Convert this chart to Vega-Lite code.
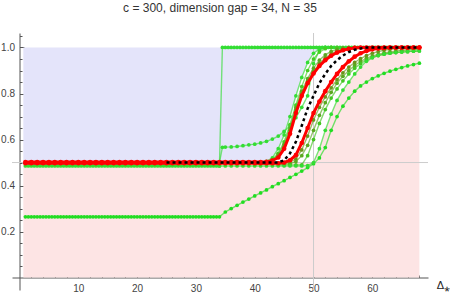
{
"$schema":"https://vega.github.io/schema/vega-lite/v6.json",
"width":416,"height":257,
"autosize":{"type":"none"},
"padding":{"left":12,"top":33,"right":22,"bottom":3},
"background":"white",
"config":{"view":{"stroke":null},"font":"Liberation Sans"},
"title":{"text":"c = 300, dimension gap = 34, N = 35","fontSize":12,"fontWeight":"normal","color":"#333333","font":"Liberation Sans","anchor":"middle","frame":"group","baseline":"alphabetic","offset":9},
"resolve":{"axis":{"x":"independent","y":"independent"}},
"datasets":{
"blue":[{"x":0.65,"lo":0.5,"hi":1},{"x":41,"lo":0.5,"hi":1},{"x":42,"lo":0.505,"hi":1},{"x":43,"lo":0.52,"hi":1},{"x":44,"lo":0.56,"hi":1},{"x":45,"lo":0.62,"hi":1},{"x":46,"lo":0.7,"hi":1},{"x":47,"lo":0.79,"hi":1},{"x":48,"lo":0.87,"hi":1},{"x":49,"lo":0.935,"hi":1},{"x":50,"lo":0.975,"hi":1},{"x":51,"lo":0.993,"hi":1},{"x":52,"lo":1,"hi":1}],
"pink":[{"x":0.65,"lo":0,"hi":0.5},{"x":50,"lo":0,"hi":0.5},{"x":51,"lo":0,"hi":0.56},{"x":52,"lo":0,"hi":0.64},{"x":53,"lo":0,"hi":0.71},{"x":54,"lo":0,"hi":0.77},{"x":55,"lo":0,"hi":0.815},{"x":56,"lo":0,"hi":0.85},{"x":57,"lo":0,"hi":0.885},{"x":58,"lo":0,"hi":0.915},{"x":59,"lo":0,"hi":0.94},{"x":60,"lo":0,"hi":0.96},{"x":62,"lo":0,"hi":0.98},{"x":64,"lo":0,"hi":0.99},{"x":66,"lo":0,"hi":0.996},{"x":68,"lo":0,"hi":1}],
"curves":[
{"c":"top","x":1,"y":0.485},{"c":"top","x":1.5,"y":0.485},{"c":"top","x":2,"y":0.485},{"c":"top","x":2.5,"y":0.485},{"c":"top","x":3,"y":0.485},{"c":"top","x":3.5,"y":0.485},{"c":"top","x":4,"y":0.485},{"c":"top","x":4.5,"y":0.485},{"c":"top","x":5,"y":0.485},{"c":"top","x":5.5,"y":0.485},{"c":"top","x":6,"y":0.485},{"c":"top","x":6.5,"y":0.485},{"c":"top","x":7,"y":0.485},{"c":"top","x":7.5,"y":0.485},{"c":"top","x":8,"y":0.485},{"c":"top","x":8.5,"y":0.485},{"c":"top","x":9,"y":0.485},{"c":"top","x":9.5,"y":0.485},{"c":"top","x":10,"y":0.485},{"c":"top","x":10.5,"y":0.485},{"c":"top","x":11,"y":0.485},{"c":"top","x":11.5,"y":0.485},{"c":"top","x":12,"y":0.485},{"c":"top","x":12.5,"y":0.485},{"c":"top","x":13,"y":0.485},{"c":"top","x":13.5,"y":0.485},{"c":"top","x":14,"y":0.485},{"c":"top","x":14.5,"y":0.485},{"c":"top","x":15,"y":0.485},{"c":"top","x":15.5,"y":0.485},{"c":"top","x":16,"y":0.485},{"c":"top","x":16.5,"y":0.485},{"c":"top","x":17,"y":0.485},{"c":"top","x":17.5,"y":0.485},{"c":"top","x":18,"y":0.485},{"c":"top","x":18.5,"y":0.485},{"c":"top","x":19,"y":0.485},{"c":"top","x":19.5,"y":0.485},{"c":"top","x":20,"y":0.485},{"c":"top","x":20.5,"y":0.485},{"c":"top","x":21,"y":0.485},{"c":"top","x":21.5,"y":0.485},{"c":"top","x":22,"y":0.485},{"c":"top","x":22.5,"y":0.485},{"c":"top","x":23,"y":0.485},{"c":"top","x":23.5,"y":0.485},{"c":"top","x":24,"y":0.485},{"c":"top","x":24.5,"y":0.485},{"c":"top","x":25,"y":0.485},{"c":"top","x":25.5,"y":0.485},{"c":"top","x":26,"y":0.485},{"c":"top","x":26.5,"y":0.485},{"c":"top","x":27,"y":0.485},{"c":"top","x":27.5,"y":0.485},{"c":"top","x":28,"y":0.485},{"c":"top","x":28.5,"y":0.485},{"c":"top","x":29,"y":0.485},{"c":"top","x":29.5,"y":0.485},{"c":"top","x":30,"y":0.485},{"c":"top","x":30.5,"y":0.485},{"c":"top","x":31,"y":0.485},{"c":"top","x":31.5,"y":0.485},{"c":"top","x":32,"y":0.485},{"c":"top","x":32.5,"y":0.485},{"c":"top","x":33,"y":0.485},{"c":"top","x":33.5,"y":0.485},{"c":"top","x":34,"y":0.485},{"c":"top","x":34.5,"y":1},{"c":"top","x":35,"y":1},{"c":"top","x":35.5,"y":1},{"c":"top","x":36,"y":1},{"c":"top","x":36.5,"y":1},{"c":"top","x":37,"y":1},{"c":"top","x":37.5,"y":1},{"c":"top","x":38,"y":1},{"c":"top","x":38.5,"y":1},{"c":"top","x":39,"y":1},{"c":"top","x":39.5,"y":1},{"c":"top","x":40,"y":1},{"c":"top","x":40.5,"y":1},{"c":"top","x":41,"y":1},{"c":"top","x":41.5,"y":1},{"c":"top","x":42,"y":1},{"c":"top","x":42.5,"y":1},{"c":"top","x":43,"y":1},{"c":"top","x":43.5,"y":1},{"c":"top","x":44,"y":1},{"c":"top","x":44.5,"y":1},{"c":"top","x":45,"y":1},{"c":"top","x":45.5,"y":1},{"c":"top","x":46,"y":1},{"c":"top","x":46.5,"y":1},{"c":"top","x":47,"y":1},{"c":"top","x":47.5,"y":1},{"c":"top","x":48,"y":1},{"c":"top","x":48.5,"y":1},{"c":"top","x":49,"y":1},{"c":"top","x":49.5,"y":1},{"c":"top","x":50,"y":1},{"c":"top","x":50.5,"y":1},{"c":"top","x":51,"y":1},{"c":"top","x":51.5,"y":1},{"c":"top","x":52,"y":1},{"c":"top","x":52.5,"y":1},{"c":"top","x":53,"y":1},{"c":"top","x":53.5,"y":1},{"c":"top","x":54,"y":1},{"c":"top","x":54.5,"y":1},{"c":"top","x":55,"y":1},{"c":"top","x":55.5,"y":1},{"c":"top","x":56,"y":1},{"c":"top","x":56.5,"y":1},{"c":"top","x":57,"y":1},{"c":"top","x":57.5,"y":1},{"c":"top","x":58,"y":1},{"c":"top","x":58.5,"y":1},{"c":"top","x":59,"y":1},{"c":"top","x":59.5,"y":1},{"c":"top","x":60,"y":1},{"c":"top","x":60.5,"y":1},{"c":"top","x":61,"y":1},{"c":"top","x":61.5,"y":1},{"c":"top","x":62,"y":1},{"c":"top","x":62.5,"y":1},{"c":"top","x":63,"y":1},{"c":"top","x":63.5,"y":1},{"c":"top","x":64,"y":1},{"c":"top","x":64.5,"y":1},{"c":"top","x":65,"y":1},{"c":"top","x":65.5,"y":1},{"c":"top","x":66,"y":1},{"c":"top","x":66.5,"y":1},{"c":"top","x":67,"y":1},{"c":"top","x":67.5,"y":1},{"c":"top","x":68,"y":1},
{"c":"j2","x":33,"y":0.5},{"c":"j2","x":34,"y":0.5},{"c":"j2","x":34.5,"y":0.566},{"c":"j2","x":35,"y":0.567},{"c":"j2","x":36,"y":0.568},{"c":"j2","x":37,"y":0.57},{"c":"j2","x":38,"y":0.573},{"c":"j2","x":39,"y":0.577},{"c":"j2","x":40,"y":0.58},{"c":"j2","x":41,"y":0.585},{"c":"j2","x":42,"y":0.592},{"c":"j2","x":43,"y":0.602},{"c":"j2","x":44,"y":0.615},{"c":"j2","x":45,"y":0.635},{"c":"j2","x":46,"y":0.66},{"c":"j2","x":47,"y":0.695},{"c":"j2","x":48,"y":0.74},{"c":"j2","x":49,"y":0.79},{"c":"j2","x":50,"y":0.93},{"c":"j2","x":51,"y":0.99},{"c":"j2","x":52,"y":1},
{"c":"low","x":1,"y":0.264},{"c":"low","x":1.5,"y":0.264},{"c":"low","x":2,"y":0.264},{"c":"low","x":2.5,"y":0.264},{"c":"low","x":3,"y":0.264},{"c":"low","x":3.5,"y":0.264},{"c":"low","x":4,"y":0.264},{"c":"low","x":4.5,"y":0.264},{"c":"low","x":5,"y":0.264},{"c":"low","x":5.5,"y":0.264},{"c":"low","x":6,"y":0.264},{"c":"low","x":6.5,"y":0.264},{"c":"low","x":7,"y":0.264},{"c":"low","x":7.5,"y":0.264},{"c":"low","x":8,"y":0.264},{"c":"low","x":8.5,"y":0.264},{"c":"low","x":9,"y":0.264},{"c":"low","x":9.5,"y":0.264},{"c":"low","x":10,"y":0.264},{"c":"low","x":10.5,"y":0.264},{"c":"low","x":11,"y":0.264},{"c":"low","x":11.5,"y":0.264},{"c":"low","x":12,"y":0.264},{"c":"low","x":12.5,"y":0.264},{"c":"low","x":13,"y":0.264},{"c":"low","x":13.5,"y":0.264},{"c":"low","x":14,"y":0.264},{"c":"low","x":14.5,"y":0.264},{"c":"low","x":15,"y":0.264},{"c":"low","x":15.5,"y":0.264},{"c":"low","x":16,"y":0.264},{"c":"low","x":16.5,"y":0.264},{"c":"low","x":17,"y":0.264},{"c":"low","x":17.5,"y":0.264},{"c":"low","x":18,"y":0.264},{"c":"low","x":18.5,"y":0.264},{"c":"low","x":19,"y":0.264},{"c":"low","x":19.5,"y":0.264},{"c":"low","x":20,"y":0.264},{"c":"low","x":20.5,"y":0.264},{"c":"low","x":21,"y":0.264},{"c":"low","x":21.5,"y":0.264},{"c":"low","x":22,"y":0.264},{"c":"low","x":22.5,"y":0.264},{"c":"low","x":23,"y":0.264},{"c":"low","x":23.5,"y":0.264},{"c":"low","x":24,"y":0.264},{"c":"low","x":24.5,"y":0.264},{"c":"low","x":25,"y":0.264},{"c":"low","x":25.5,"y":0.264},{"c":"low","x":26,"y":0.264},{"c":"low","x":26.5,"y":0.264},{"c":"low","x":27,"y":0.264},{"c":"low","x":27.5,"y":0.264},{"c":"low","x":28,"y":0.264},{"c":"low","x":28.5,"y":0.264},{"c":"low","x":29,"y":0.264},{"c":"low","x":29.5,"y":0.264},{"c":"low","x":30,"y":0.264},{"c":"low","x":30.5,"y":0.264},{"c":"low","x":31,"y":0.264},{"c":"low","x":31.5,"y":0.264},{"c":"low","x":32,"y":0.264},{"c":"low","x":32.5,"y":0.264},{"c":"low","x":33,"y":0.264},{"c":"low","x":33.5,"y":0.264},{"c":"low","x":34,"y":0.264},{"c":"low","x":35,"y":0.285},{"c":"low","x":36,"y":0.3},{"c":"low","x":37,"y":0.314},{"c":"low","x":38,"y":0.328},{"c":"low","x":39,"y":0.341},{"c":"low","x":40,"y":0.355},{"c":"low","x":41,"y":0.368},{"c":"low","x":42,"y":0.381},{"c":"low","x":43,"y":0.395},{"c":"low","x":44,"y":0.408},{"c":"low","x":45,"y":0.421},{"c":"low","x":46,"y":0.435},{"c":"low","x":47,"y":0.449},{"c":"low","x":48,"y":0.463},{"c":"low","x":49,"y":0.478},{"c":"low","x":50,"y":0.495},{"c":"low","x":51,"y":0.52},{"c":"low","x":52,"y":0.565},{"c":"low","x":53,"y":0.64},{"c":"low","x":54,"y":0.7},{"c":"low","x":55,"y":0.745},{"c":"low","x":56,"y":0.78},{"c":"low","x":57,"y":0.81},{"c":"low","x":58,"y":0.833},{"c":"low","x":59,"y":0.85},{"c":"low","x":60,"y":0.865},{"c":"low","x":61,"y":0.877},{"c":"low","x":62,"y":0.888},{"c":"low","x":63,"y":0.897},{"c":"low","x":64,"y":0.905},{"c":"low","x":65,"y":0.913},{"c":"low","x":66,"y":0.92},{"c":"low","x":67,"y":0.926},{"c":"low","x":68,"y":0.932},
{"c":"L1","x":40,"y":0.5},{"c":"L1","x":41,"y":0.5},{"c":"L1","x":42,"y":0.505},{"c":"L1","x":43,"y":0.52},{"c":"L1","x":44,"y":0.56},{"c":"L1","x":45,"y":0.62},{"c":"L1","x":46,"y":0.7},{"c":"L1","x":47,"y":0.79},{"c":"L1","x":48,"y":0.87},{"c":"L1","x":49,"y":0.935},{"c":"L1","x":50,"y":0.975},{"c":"L1","x":51,"y":0.993},{"c":"L1","x":52,"y":1},{"c":"L1","x":53,"y":1},
{"c":"L2","x":40,"y":0.5},{"c":"L2","x":41,"y":0.5},{"c":"L2","x":42,"y":0.502},{"c":"L2","x":43,"y":0.512},{"c":"L2","x":44,"y":0.54},{"c":"L2","x":45,"y":0.59},{"c":"L2","x":46,"y":0.665},{"c":"L2","x":47,"y":0.75},{"c":"L2","x":48,"y":0.83},{"c":"L2","x":49,"y":0.9},{"c":"L2","x":50,"y":0.95},{"c":"L2","x":51,"y":0.98},{"c":"L2","x":52,"y":0.995},{"c":"L2","x":53,"y":1},{"c":"L2","x":54,"y":1},
{"c":"L4","x":40,"y":0.5},{"c":"L4","x":41,"y":0.5},{"c":"L4","x":42,"y":0.503},{"c":"L4","x":43,"y":0.51},{"c":"L4","x":44,"y":0.535},{"c":"L4","x":45,"y":0.58},{"c":"L4","x":46,"y":0.65},{"c":"L4","x":47,"y":0.74},{"c":"L4","x":48,"y":0.81},{"c":"L4","x":49,"y":0.865},{"c":"L4","x":50,"y":0.91},{"c":"L4","x":51,"y":0.945},{"c":"L4","x":52,"y":0.968},{"c":"L4","x":53,"y":0.983},{"c":"L4","x":54,"y":0.992},{"c":"L4","x":55,"y":0.998},{"c":"L4","x":56,"y":1},
{"c":"L3","x":40,"y":0.5},{"c":"L3","x":41,"y":0.5},{"c":"L3","x":42,"y":0.5},{"c":"L3","x":43,"y":0.505},{"c":"L3","x":44,"y":0.525},{"c":"L3","x":45,"y":0.57},{"c":"L3","x":46,"y":0.64},{"c":"L3","x":47,"y":0.73},{"c":"L3","x":48,"y":0.8},{"c":"L3","x":49,"y":0.855},{"c":"L3","x":50,"y":0.895},{"c":"L3","x":51,"y":0.93},{"c":"L3","x":52,"y":0.955},{"c":"L3","x":53,"y":0.972},{"c":"L3","x":54,"y":0.985},{"c":"L3","x":55,"y":0.993},{"c":"L3","x":56,"y":0.998},{"c":"L3","x":57,"y":1},
{"c":"R1","x":40,"y":0.495},{"c":"R1","x":45,"y":0.497},{"c":"R1","x":46,"y":0.502},{"c":"R1","x":47,"y":0.515},{"c":"R1","x":48,"y":0.555},{"c":"R1","x":49,"y":0.615},{"c":"R1","x":50,"y":0.685},{"c":"R1","x":51,"y":0.74},{"c":"R1","x":52,"y":0.785},{"c":"R1","x":53,"y":0.825},{"c":"R1","x":54,"y":0.86},{"c":"R1","x":55,"y":0.89},{"c":"R1","x":56,"y":0.915},{"c":"R1","x":57,"y":0.935},{"c":"R1","x":58,"y":0.952},{"c":"R1","x":59,"y":0.965},{"c":"R1","x":60,"y":0.975},{"c":"R1","x":61,"y":0.982},{"c":"R1","x":62,"y":0.988},{"c":"R1","x":63,"y":0.992},{"c":"R1","x":64,"y":0.995},{"c":"R1","x":65,"y":0.997},{"c":"R1","x":66,"y":0.998},{"c":"R1","x":67,"y":0.999},{"c":"R1","x":68,"y":1},
{"c":"R4","x":40,"y":0.492},{"c":"R4","x":46,"y":0.495},{"c":"R4","x":47,"y":0.505},{"c":"R4","x":48,"y":0.53},{"c":"R4","x":49,"y":0.575},{"c":"R4","x":50,"y":0.64},{"c":"R4","x":51,"y":0.705},{"c":"R4","x":52,"y":0.76},{"c":"R4","x":53,"y":0.805},{"c":"R4","x":54,"y":0.845},{"c":"R4","x":55,"y":0.875},{"c":"R4","x":56,"y":0.9},{"c":"R4","x":57,"y":0.922},{"c":"R4","x":58,"y":0.94},{"c":"R4","x":59,"y":0.953},{"c":"R4","x":60,"y":0.963},{"c":"R4","x":61,"y":0.97},{"c":"R4","x":62,"y":0.976},{"c":"R4","x":63,"y":0.98},{"c":"R4","x":64,"y":0.984},{"c":"R4","x":65,"y":0.987},{"c":"R4","x":66,"y":0.989},{"c":"R4","x":67,"y":0.991},{"c":"R4","x":68,"y":0.993},
{"c":"R2","x":44,"y":0.49},{"c":"R2","x":45,"y":0.49},{"c":"R2","x":46,"y":0.49},{"c":"R2","x":47,"y":0.49},{"c":"R2","x":48,"y":0.49},{"c":"R2","x":49,"y":0.53},{"c":"R2","x":50,"y":0.6},{"c":"R2","x":51,"y":0.67},{"c":"R2","x":52,"y":0.73},{"c":"R2","x":53,"y":0.78},{"c":"R2","x":54,"y":0.82},{"c":"R2","x":55,"y":0.855},{"c":"R2","x":56,"y":0.885},{"c":"R2","x":57,"y":0.91},{"c":"R2","x":58,"y":0.93},{"c":"R2","x":59,"y":0.945},{"c":"R2","x":60,"y":0.957},{"c":"R2","x":61,"y":0.965},{"c":"R2","x":62,"y":0.971},{"c":"R2","x":63,"y":0.975},{"c":"R2","x":64,"y":0.978},{"c":"R2","x":65,"y":0.98},{"c":"R2","x":66,"y":0.982},{"c":"R2","x":67,"y":0.984},{"c":"R2","x":68,"y":0.985},
{"c":"R3","x":34,"y":0.485},{"c":"R3","x":35,"y":0.485},{"c":"R3","x":36,"y":0.485},{"c":"R3","x":37,"y":0.485},{"c":"R3","x":38,"y":0.485},{"c":"R3","x":39,"y":0.485},{"c":"R3","x":40,"y":0.485},{"c":"R3","x":41,"y":0.485},{"c":"R3","x":42,"y":0.485},{"c":"R3","x":43,"y":0.485},{"c":"R3","x":44,"y":0.485},{"c":"R3","x":45,"y":0.485},{"c":"R3","x":46,"y":0.485},{"c":"R3","x":47,"y":0.485},{"c":"R3","x":48,"y":0.485},{"c":"R3","x":49,"y":0.487},{"c":"R3","x":50,"y":0.5},{"c":"R3","x":51,"y":0.56},{"c":"R3","x":52,"y":0.64},{"c":"R3","x":53,"y":0.71},{"c":"R3","x":54,"y":0.77},{"c":"R3","x":55,"y":0.815},{"c":"R3","x":56,"y":0.85},{"c":"R3","x":57,"y":0.885},{"c":"R3","x":58,"y":0.915},{"c":"R3","x":59,"y":0.94},{"c":"R3","x":60,"y":0.955},{"c":"R3","x":61,"y":0.965},{"c":"R3","x":62,"y":0.971},{"c":"R3","x":63,"y":0.975},{"c":"R3","x":64,"y":0.978},{"c":"R3","x":65,"y":0.98},{"c":"R3","x":66,"y":0.982},{"c":"R3","x":67,"y":0.984},{"c":"R3","x":68,"y":0.985},
{"c":"rl","x":1,"y":0.502},{"c":"rl","x":2,"y":0.502},{"c":"rl","x":3,"y":0.502},{"c":"rl","x":4,"y":0.502},{"c":"rl","x":5,"y":0.502},{"c":"rl","x":6,"y":0.502},{"c":"rl","x":7,"y":0.502},{"c":"rl","x":8,"y":0.502},{"c":"rl","x":9,"y":0.502},{"c":"rl","x":10,"y":0.502},{"c":"rl","x":11,"y":0.502},{"c":"rl","x":12,"y":0.502},{"c":"rl","x":13,"y":0.502},{"c":"rl","x":14,"y":0.502},{"c":"rl","x":15,"y":0.502},{"c":"rl","x":16,"y":0.502},{"c":"rl","x":17,"y":0.502},{"c":"rl","x":18,"y":0.502},{"c":"rl","x":19,"y":0.502},{"c":"rl","x":20,"y":0.502},{"c":"rl","x":21,"y":0.502},{"c":"rl","x":22,"y":0.502},{"c":"rl","x":23,"y":0.502},{"c":"rl","x":24,"y":0.502},{"c":"rl","x":25,"y":0.502},{"c":"rl","x":26,"y":0.502},{"c":"rl","x":27,"y":0.502},{"c":"rl","x":28,"y":0.502},{"c":"rl","x":29,"y":0.502},{"c":"rl","x":30,"y":0.502},{"c":"rl","x":31,"y":0.502},{"c":"rl","x":32,"y":0.502},{"c":"rl","x":33,"y":0.502},{"c":"rl","x":34,"y":0.502},{"c":"rl","x":35,"y":0.502},{"c":"rl","x":36,"y":0.502},{"c":"rl","x":37,"y":0.502},{"c":"rl","x":38,"y":0.502},{"c":"rl","x":39,"y":0.502},{"c":"rl","x":40,"y":0.502},{"c":"rl","x":41,"y":0.502},{"c":"rl","x":42,"y":0.503},{"c":"rl","x":43,"y":0.508},{"c":"rl","x":44,"y":0.522},{"c":"rl","x":45,"y":0.56},{"c":"rl","x":46,"y":0.625},{"c":"rl","x":47,"y":0.715},{"c":"rl","x":48,"y":0.79},{"c":"rl","x":49,"y":0.845},{"c":"rl","x":50,"y":0.887},{"c":"rl","x":51,"y":0.92},{"c":"rl","x":52,"y":0.945},{"c":"rl","x":53,"y":0.964},{"c":"rl","x":54,"y":0.978},{"c":"rl","x":55,"y":0.988},{"c":"rl","x":56,"y":0.994},{"c":"rl","x":57,"y":0.998},{"c":"rl","x":58,"y":1},{"c":"rl","x":59,"y":1},{"c":"rl","x":60,"y":1},{"c":"rl","x":61,"y":1},{"c":"rl","x":62,"y":1},{"c":"rl","x":63,"y":1},{"c":"rl","x":64,"y":1},{"c":"rl","x":65,"y":1},{"c":"rl","x":66,"y":1},{"c":"rl","x":67,"y":1},{"c":"rl","x":68,"y":1},
{"c":"rr","x":1,"y":0.497},{"c":"rr","x":2,"y":0.497},{"c":"rr","x":3,"y":0.497},{"c":"rr","x":4,"y":0.497},{"c":"rr","x":5,"y":0.497},{"c":"rr","x":6,"y":0.497},{"c":"rr","x":7,"y":0.497},{"c":"rr","x":8,"y":0.497},{"c":"rr","x":9,"y":0.497},{"c":"rr","x":10,"y":0.497},{"c":"rr","x":11,"y":0.497},{"c":"rr","x":12,"y":0.497},{"c":"rr","x":13,"y":0.497},{"c":"rr","x":14,"y":0.497},{"c":"rr","x":15,"y":0.497},{"c":"rr","x":16,"y":0.497},{"c":"rr","x":17,"y":0.497},{"c":"rr","x":18,"y":0.497},{"c":"rr","x":19,"y":0.497},{"c":"rr","x":20,"y":0.497},{"c":"rr","x":21,"y":0.497},{"c":"rr","x":22,"y":0.497},{"c":"rr","x":23,"y":0.497},{"c":"rr","x":24,"y":0.497},{"c":"rr","x":25,"y":0.497},{"c":"rr","x":26,"y":0.497},{"c":"rr","x":27,"y":0.497},{"c":"rr","x":28,"y":0.497},{"c":"rr","x":29,"y":0.497},{"c":"rr","x":30,"y":0.497},{"c":"rr","x":31,"y":0.497},{"c":"rr","x":32,"y":0.497},{"c":"rr","x":33,"y":0.497},{"c":"rr","x":34,"y":0.497},{"c":"rr","x":35,"y":0.497},{"c":"rr","x":36,"y":0.497},{"c":"rr","x":37,"y":0.497},{"c":"rr","x":38,"y":0.497},{"c":"rr","x":39,"y":0.497},{"c":"rr","x":40,"y":0.497},{"c":"rr","x":41,"y":0.497},{"c":"rr","x":42,"y":0.497},{"c":"rr","x":43,"y":0.497},{"c":"rr","x":44,"y":0.497},{"c":"rr","x":45,"y":0.5},{"c":"rr","x":46,"y":0.51},{"c":"rr","x":47,"y":0.532},{"c":"rr","x":48,"y":0.585},{"c":"rr","x":49,"y":0.65},{"c":"rr","x":50,"y":0.715},{"c":"rr","x":51,"y":0.765},{"c":"rr","x":52,"y":0.81},{"c":"rr","x":53,"y":0.85},{"c":"rr","x":54,"y":0.885},{"c":"rr","x":55,"y":0.915},{"c":"rr","x":56,"y":0.94},{"c":"rr","x":57,"y":0.96},{"c":"rr","x":58,"y":0.975},{"c":"rr","x":59,"y":0.985},{"c":"rr","x":60,"y":0.992},{"c":"rr","x":61,"y":0.996},{"c":"rr","x":62,"y":0.998},{"c":"rr","x":63,"y":1},{"c":"rr","x":64,"y":1},{"c":"rr","x":65,"y":1},{"c":"rr","x":66,"y":1},{"c":"rr","x":67,"y":1},{"c":"rr","x":68,"y":1},
{"c":"bk","x":25,"y":0.5},{"c":"bk","x":30,"y":0.5},{"c":"bk","x":35,"y":0.5},{"c":"bk","x":40,"y":0.5},{"c":"bk","x":44,"y":0.5},{"c":"bk","x":45,"y":0.51},{"c":"bk","x":46,"y":0.54},{"c":"bk","x":47,"y":0.59},{"c":"bk","x":48,"y":0.66},{"c":"bk","x":49,"y":0.735},{"c":"bk","x":50,"y":0.79},{"c":"bk","x":51,"y":0.845},{"c":"bk","x":52,"y":0.885},{"c":"bk","x":53,"y":0.92},{"c":"bk","x":54,"y":0.945},{"c":"bk","x":55,"y":0.965},{"c":"bk","x":56,"y":0.98},{"c":"bk","x":57,"y":0.99},{"c":"bk","x":58,"y":0.996},{"c":"bk","x":59,"y":1},{"c":"bk","x":64,"y":1},{"c":"bk","x":68,"y":1}
]},
"layer":[
{"data":{"name":"pink"},"mark":{"type":"area","color":"#fde4e4","opacity":1},
 "encoding":{
  "x":{"field":"x","type":"quantitative","scale":{"domain":[-1.28,69.47],"nice":false,"zero":false},
   "axis":{"orient":"bottom","title":"Δ⁎","values":[10,20,30,40,50,60],"format":"d","grid":false,"domainColor":"#555555","tickColor":"#555555",
    "tickSize":-4.5,"labelFontSize":10,"labelColor":"#444444","labelPadding":10,"labelFlush":false,"labelOverlap":false,"offset":-12.5,
    "titleFontSize":11,"titleFontWeight":"normal","titleColor":"#222222","titleX":431,"titleY":11,"titleAlign":"center","titleBaseline":"alphabetic"}},
  "y":{"field":"lo","type":"quantitative","scale":{"domain":[-0.054,1.063],"nice":false,"zero":false},
   "axis":{"orient":"left","title":null,"values":[0.2,0.4,0.6,0.8,1],"format":".1f","grid":false,"domainColor":"#555555","tickColor":"#555555",
    "tickSize":-4.5,"labelFontSize":10,"labelColor":"#444444","labelPadding":9.5,"labelFlush":false,"labelOverlap":false,"offset":-7.5}},
  "y2":{"field":"hi"}}},
{"data":{"name":"blue"},"mark":{"type":"area","color":"#e4e4fa","opacity":1},
 "encoding":{
  "x":{"field":"x","type":"quantitative","axis":{"orient":"bottom","title":null,"values":[2,4,6,8,12,14,16,18,22,24,26,28,32,34,36,38,42,44,46,48,52,54,56,58,62,64,66,68],"labels":false,"domain":false,"grid":false,"tickColor":"#555555","tickSize":-2.5,"offset":-12.5}},
  "y":{"field":"lo","type":"quantitative","axis":{"orient":"left","title":null,"values":[0.05,0.1,0.15,0.25,0.3,0.35,0.45,0.5,0.55,0.65,0.7,0.75,0.85,0.9,0.95,1.05],"labels":false,"domain":false,"grid":false,"tickColor":"#555555","tickSize":-2.5,"offset":-7.5}},
  "y2":{"field":"hi"}}},
{"data":{"values":[{"v":50}]},"mark":{"type":"rule","color":"#cccccc","strokeWidth":1},"encoding":{"x":{"field":"v","type":"quantitative","axis":null}}},
{"data":{"values":[{"v":0.5}]},"mark":{"type":"rule","color":"#cccccc","strokeWidth":1},"encoding":{"y":{"field":"v","type":"quantitative","axis":null}}},
{"data":{"name":"curves"},"transform":[{"filter":"indexof(['rl','rr','bk'], datum.c) < 0"}],
 "mark":{"type":"line","strokeWidth":1.4,"opacity":0.65},
 "encoding":{"x":{"field":"x","type":"quantitative","axis":null},"y":{"field":"y","type":"quantitative","axis":null},
  "color":{"field":"c","type":"nominal","legend":null,"scale":{"domain":["top","j2","low","L1","L2","L4","L3","R1","R4","R2","R3"],"range":["#33dd33","#33dd33","#22dd22","#33dd33","#44cc22","#5aa820","#6b931a","#6b931a","#5aa820","#44c422","#33dd33"]}}}},
{"data":{"name":"curves"},"transform":[{"filter":"indexof(['rl','rr','bk'], datum.c) < 0"}],
 "mark":{"type":"circle","size":14,"opacity":1},
 "encoding":{"x":{"field":"x","type":"quantitative","axis":null},"y":{"field":"y","type":"quantitative","axis":null},
  "color":{"field":"c","type":"nominal","legend":null}}},
{"data":{"name":"curves"},"transform":[{"filter":"datum.c === 'rl' || datum.c === 'rr'"}],
 "mark":{"type":"line","strokeWidth":3,"color":"#ff0000"},
 "encoding":{"x":{"field":"x","type":"quantitative","axis":null},"y":{"field":"y","type":"quantitative","axis":null},"detail":{"field":"c"}}},
{"data":{"name":"curves"},"transform":[{"filter":"datum.c === 'rl' || datum.c === 'rr'"}],
 "mark":{"type":"circle","size":22,"color":"#ff0000","opacity":1},
 "encoding":{"x":{"field":"x","type":"quantitative","axis":null},"y":{"field":"y","type":"quantitative","axis":null}}},
{"data":{"name":"curves"},"transform":[{"filter":"datum.c === 'bk'"}],
 "mark":{"type":"line","strokeWidth":2.5,"color":"#000000","strokeDash":[3,3]},
 "encoding":{"x":{"field":"x","type":"quantitative","axis":null},"y":{"field":"y","type":"quantitative","axis":null}}}
]
}
